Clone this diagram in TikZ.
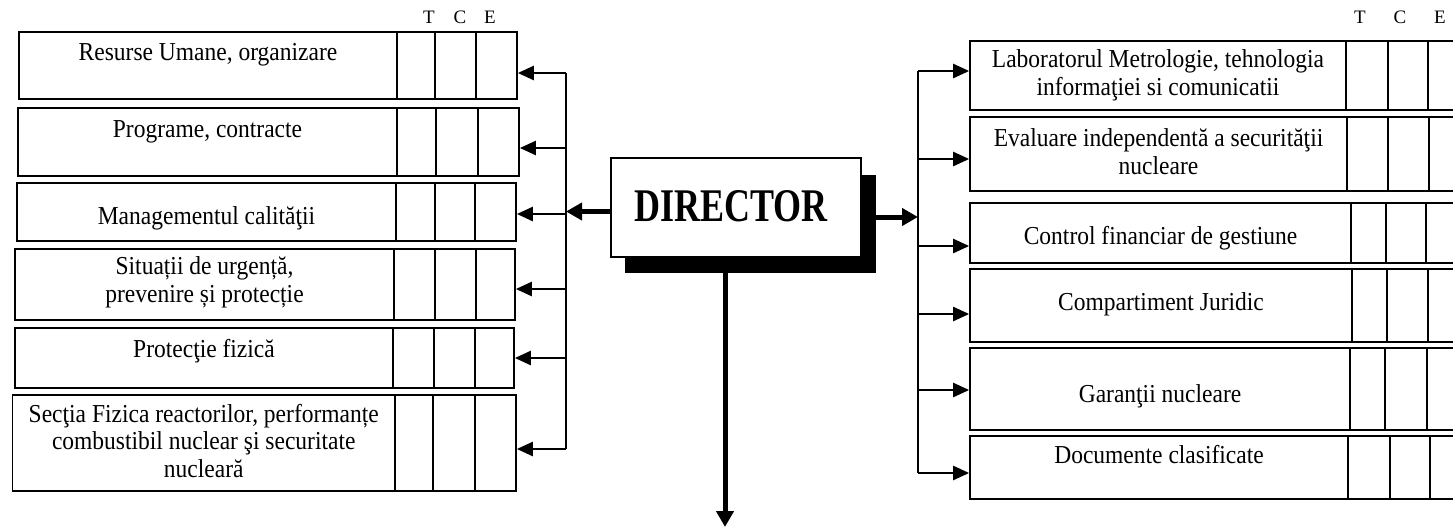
\documentclass[tikz,border=0pt]{standalone}
\usepackage{fontspec}
\setmainfont{Liberation Serif}[BoldFont={Liberation Serif Bold}]
\usetikzlibrary{arrows.meta,fit}
\newcommand\stx[1]{\scalebox{1}[1.1]{#1}}
\newcommand\mtx[1]{\scalebox{1}[1.1]{\begin{tabular}{@{}c@{}}#1\end{tabular}}}
\begin{document}
\begin{tikzpicture}[x=1pt,y=-1pt,
  cell/.style={draw, line width=1.7pt, inner sep=0pt},
  txt/.style={font=\fontsize{23.5}{25}\selectfont, align=center, inner sep=0pt},
  hdr/.style={font=\fontsize{19}{20}\selectfont, inner sep=0pt},
  bus/.style={line width=2pt},
  arr/.style={line width=2.5pt, -{Triangle[length=16pt,width=14pt]}},
  thickarr/.style={line width=5pt, -{Triangle[length=16pt,width=17pt]}}]
\clip (0,0) rectangle (1453,528);
% ---- boxes with T C E cells
\foreach \n/\xa/\xb/\xc/\xd/\xe/\ya/\yb in {
  L1/19/397/435/476/517/32/99,
  L2/18/397/436/478/519/108/176,
  L3/17/396/435/475/516/183/241,
  L4/15/394/435/476/515/249/320,
  L5/15/393/434/475/514/328/388,
  L6/12.5/395/433/475/516/395/491,
  R1/970/1346/1388/1428/1470/41/110,
  R2/970/1347/1388/1429/1470/117/191,
  R3/970/1351/1386/1426/1470/203/263,
  R4/970/1352/1387/1428/1470/269/342,
  R5/970/1350/1385/1427/1470/348/430,
  R6/970/1348/1390/1430/1470/436/499}{
  \node[cell, fit={(\xa,\ya)(\xb,\yb)}] (\n) {};
  \node[cell, fit={(\xb,\ya)(\xc,\yb)}] (\n-t) {};
  \node[cell, fit={(\xc,\ya)(\xd,\yb)}] (\n-c) {};
  \node[cell, fit={(\xd,\ya)(\xe,\yb)}] (\n-e) {};
}
% ---- column headers
\node[hdr] (hLT) at (429,17) {T};
\node[hdr] (hLC) at (460,17) {C};
\node[hdr] (hLE) at (490,17) {E};
\node[hdr] (hRT) at (1360,17) {T};
\node[hdr] (hRC) at (1400,17) {C};
\node[hdr] (hRE) at (1440,17) {E};
% ---- texts, left
\node[txt, anchor=base] (L1x) at (L1.center |- 0,60) {\stx{Resurse Umane, organizare}};
\node[txt, anchor=base] (L2x) at (L2.center |- 0,137) {\stx{Programe, contracte}};
\node[txt, anchor=base] (L3x) at (L3.center |- 0,224) {\stx{Managementul calităţii}};
\node[txt] (L4x) at (L4.center |- 0,283) {\mtx{Situații de urgență,\\prevenire și protecție}};
\node[txt, anchor=base] (L5x) at (L5.center |- 0,357) {\stx{Protecţie fizică}};
\node[txt] (L6x) at (L6.center |- 0,444) {\mtx{Secţia Fizica reactorilor, performanțe\\combustibil nuclear şi securitate\\nucleară}};
% ---- texts, right
\node[txt] (R1x) at (R1.center |- 0,76) {\mtx{Laboratorul Metrologie, tehnologia\\informaţiei si comunicatii}};
\node[txt] (R2x) at (R2.center |- 0,155) {\mtx{Evaluare independentă a securităţii\\nucleare}};
\node[txt, anchor=base] (R3x) at (R3.center |- 0,244) {\stx{Control financiar de gestiune}};
\node[txt, anchor=base] (R4x) at (R4.center |- 0,310) {\stx{Compartiment Juridic}};
\node[txt, anchor=base] (R5x) at (R5.center |- 0,402) {\stx{Garanţii nucleare}};
\node[txt, anchor=base] (R6x) at (R6.center |- 0,463) {\stx{Documente clasificate}};
% ---- director
\node[fill=black, inner sep=0pt, fit={(625,175)(876,273)}] (S) {};
\node[draw, fill=white, line width=1.3pt, inner sep=0pt, fit={(611,158)(861,257)}] (D) {};
\node[font=\fontsize{36}{40}\selectfont\bfseries, inner sep=0pt] (Dt) at (731,206) {\scalebox{1}[1.3]{DIRECTOR}};
% ---- left bus
\coordinate (la1) at (566,73);
\coordinate (la2) at (566,148);
\coordinate (la3) at (566,214);
\coordinate (la4) at (566,289);
\coordinate (la5) at (566,358);
\coordinate (la6) at (566,449);
\draw[bus] (la1) -- (la6);
\foreach \i in {1,...,6}{\draw[arr] (la\i) -- (la\i -| L\i-e.east);}
% ---- right bus
\coordinate (ra1) at (918,71);
\coordinate (ra2) at (918,159);
\coordinate (ra3) at (918,246);
\coordinate (ra4) at (918,314);
\coordinate (ra5) at (918,390);
\coordinate (ra6) at (918,473);
\draw[bus] (ra1) -- (ra6);
\foreach \i in {1,...,6}{\draw[arr] (ra\i) -- (ra\i -| R\i.west);}
% ---- director connectors
\coordinate (dlo) at ([yshift=-4pt]D.west);
\draw[thickarr] (dlo) -- (dlo -| la1);
\coordinate (dro) at ([yshift=7pt]S.east);
\draw[thickarr] (dro) -- (dro -| ra1);
\coordinate (dso) at ([xshift=-25.5pt]S.south);
\coordinate (dend) at (725,527);
\draw[thickarr] (dso) -- (dend);
\end{tikzpicture}
\end{document}
